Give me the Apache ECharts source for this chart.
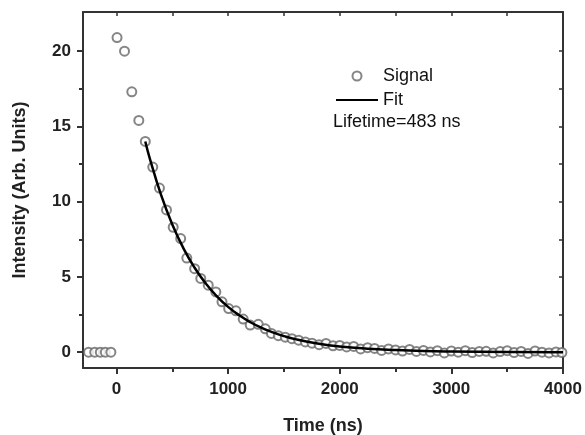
<!DOCTYPE html>
<html>
<head>
<meta charset="utf-8">
<script src="https://cdn.jsdelivr.net/npm/echarts@6/dist/echarts.min.js"></script>
<style>html,body{margin:0;padding:0;background:#fff}#c{width:585px;height:435px}</style>
</head>
<body>
<div id="c"></div>
<script>
// Signal data (time in ns, intensity)
var signalTime = [-250,-195,-145,-100,-50,5,72,137,200,258,325,385,448,508,575,630,700,755,822,890,945,1005,1070,1135,1198,1270,1333,1388,1450,1512,1572,1632,1692,1752,1815,1877,1940,2000,2062,2125,2187,2250,2312,2375,2437,2500,2562,2625,2687,2750,2812,2875,2937,3000,3062,3125,3187,3250,3312,3375,3437,3500,3562,3625,3687,3750,3812,3875,3937,3990];
var signalValue = [0,0,0,0,0,20.9,20.0,17.3,15.4,14.0,12.3,10.9,9.45,8.3,7.55,6.25,5.55,4.9,4.45,4.0,3.35,2.9,2.75,2.2,1.8,1.85,1.55,1.25,1.1,1.0,0.9,0.8,0.68,0.6,0.5,0.58,0.42,0.45,0.35,0.38,0.22,0.3,0.25,0.12,0.22,0.15,0.08,0.18,0.05,0.12,0.02,0.1,-0.05,0.08,0.0,0.1,-0.02,0.05,0.06,-0.05,0.04,0.1,-0.02,0.05,-0.08,0.08,0.0,-0.05,0.02,-0.02];
// Fit curve
var fitTime = [258,300,400,500,600,700,800,900,1000,1100,1200,1300,1400,1500,1600,1800,2000,2250,2500,2750,3000,3500,4000];
var fitValue = [14.0,12.83,10.43,8.48,6.9,5.61,4.56,3.71,3.01,2.45,1.99,1.62,1.32,1.07,0.87,0.58,0.38,0.23,0.14,0.08,0.05,0.02,0.0];
var xMajor = [0,1000,2000,3000,4000];
var xMinor = [500,1500,2500,3500];
var yMajor = [0,5,10,15,20];
var yMinor = [2.5,7.5,12.5,17.5];
var lifetimeText = 'Lifetime=483 ns';

var FONT = '"Liberation Sans", Arial, sans-serif';
var AX = '#333';
var chart = echarts.init(document.getElementById('c'), null, {renderer: 'canvas'});
function pairs(a, b){ return a.map(function(v,i){ return [v, b[i]]; }); }
function plain(v){ return String(v); }
var xr = {min: -300, max: 4000};
var yr = {min: -1.05, max: 22.6};
var option = {
  animation: false,
  grid: {left: 83, right: 22, top: 12, bottom: 67, containLabel: false, outerBoundsMode: 'none'},
  xAxis: [
    {type: 'value', position: 'bottom', min: xr.min, max: xr.max, splitLine: {show: false},
     axisLine: {show: true, onZero: false, lineStyle: {color: AX, width: 2}},
     axisTick: {show: true, inside: false, length: 6, customValues: xMajor, lineStyle: {color: AX, width: 2}},
     axisLabel: {customValues: xMajor, formatter: plain, margin: 13, color: '#222', fontSize: 17, fontWeight: 'bold', fontFamily: FONT},
     name: 'Time (ns)', nameLocation: 'middle', nameGap: 49,
     nameTextStyle: {color: '#222', fontSize: 18, fontWeight: 'bold', fontFamily: FONT}},
    {type: 'value', position: 'bottom', min: xr.min, max: xr.max, splitLine: {show: false},
     axisLine: {show: false, onZero: false},
     axisTick: {show: true, inside: false, length: 4, customValues: xMinor, lineStyle: {color: AX, width: 2}},
     axisLabel: {show: false}},
    {type: 'value', position: 'top', min: xr.min, max: xr.max, splitLine: {show: false},
     axisLine: {show: true, onZero: false, lineStyle: {color: AX, width: 2}},
     axisTick: {show: true, inside: true, length: 4, customValues: xMajor.concat(xMinor), lineStyle: {color: AX, width: 1.5}},
     axisLabel: {show: false}}
  ],
  yAxis: [
    {type: 'value', position: 'left', min: yr.min, max: yr.max, splitLine: {show: false},
     axisLine: {show: true, onZero: false, lineStyle: {color: AX, width: 2}},
     axisTick: {show: true, inside: false, length: 6, customValues: yMajor, lineStyle: {color: AX, width: 2}},
     axisLabel: {customValues: yMajor, formatter: plain, margin: 12, color: '#222', fontSize: 17, fontWeight: 'bold', fontFamily: FONT},
     name: 'Intensity (Arb. Units)', nameLocation: 'middle', nameGap: 54,
     nameTextStyle: {color: '#222', fontSize: 18, fontWeight: 'bold', fontFamily: FONT}},
    {type: 'value', position: 'left', min: yr.min, max: yr.max, splitLine: {show: false},
     axisLine: {show: false, onZero: false},
     axisTick: {show: true, inside: false, length: 4, customValues: yMinor, lineStyle: {color: AX, width: 2}},
     axisLabel: {show: false}},
    {type: 'value', position: 'right', min: yr.min, max: yr.max, splitLine: {show: false},
     axisLine: {show: true, onZero: false, lineStyle: {color: AX, width: 2}},
     axisTick: {show: true, inside: true, length: 4, customValues: yMajor.concat(yMinor), lineStyle: {color: AX, width: 1.5}},
     axisLabel: {show: false}}
  ],
  legend: {
    orient: 'vertical', left: 330, top: 62, itemWidth: 42, itemHeight: 9, itemGap: 6,
    textStyle: {color: '#111', fontSize: 18, fontFamily: FONT},
    data: [{name: 'Signal', icon: 'emptyCircle'}, {name: 'Fit', itemStyle: {opacity: 0}}]
  },
  graphic: [{type: 'text', left: 333, top: 113, style: {text: lifetimeText, fill: '#111', font: '18px ' + FONT}}],
  series: [
    {name: 'Signal', type: 'scatter', xAxisIndex: 0, yAxisIndex: 0, symbol: 'emptyCircle', symbolSize: 9,
     itemStyle: {color: '#666', borderColor: '#666', borderWidth: 1.6}, data: pairs(signalTime, signalValue), z: 2},
    {name: 'Fit', type: 'line', xAxisIndex: 0, yAxisIndex: 0, smooth: true, showSymbol: false, symbol: 'none',
     lineStyle: {color: '#000', width: 2.5}, itemStyle: {color: '#000'}, data: pairs(fitTime, fitValue), z: 3}
  ]
};
chart.setOption(option);
</script>
</body>
</html>
